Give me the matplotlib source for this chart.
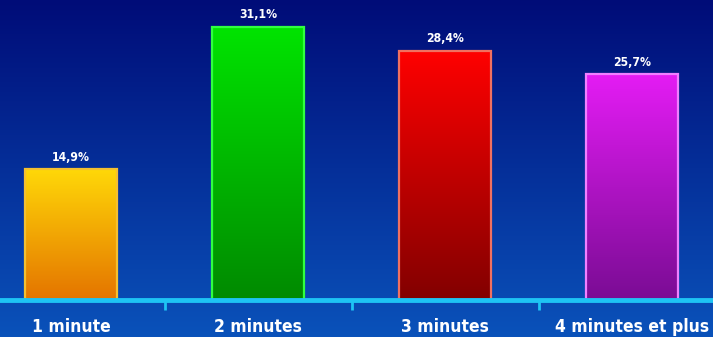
import matplotlib
matplotlib.use('Agg')
import matplotlib.pyplot as plt
import numpy as np
from matplotlib import font_manager
from matplotlib.colors import LinearSegmentedColormap

categories = ['1 minute', '2 minutes', '3 minutes', '4 minutes et plus']
values = [14.9, 31.1, 28.4, 25.7]
value_labels = ['14,9%', '31,1%', '28,4%', '25,7%']
top_colors = ['#ffd808', '#00e400', '#ff0000', '#e41cf4']
bottom_colors = ['#e47400', '#008a00', '#820000', '#7a0c94']
edge_colors = ['#f4c030', '#30ff40', '#f07060', '#f080ff']

names = {f.name for f in font_manager.fontManager.ttflist}
if 'Liberation Sans Narrow' in names:
    family, stretch = 'Liberation Sans Narrow', 'normal'
    lab_size, val_size = 15, 10.5
else:
    family, stretch = 'DejaVu Sans', 'condensed'
    lab_size, val_size = 12.5, 8.7

fig = plt.figure(figsize=(7.13, 3.37), dpi=100)

# background gradient
bg = fig.add_axes([0, 0, 1, 1])
bg.set_axis_off()
bg_cmap = LinearSegmentedColormap.from_list('bg', ['#000c78', '#0a52ba'])
bg.imshow(np.linspace(0, 1, 256).reshape(-1, 1), aspect='auto', cmap=bg_cmap,
          extent=[0, 1, 0, 1], origin='upper')
bg.set_xlim(0, 1); bg.set_ylim(0, 1)

ax = fig.add_axes([0, 37 / 337, 1, 300 / 337])
ax.patch.set_alpha(0)

x = np.arange(len(categories))
bars = ax.bar(x, values, width=0.49, facecolor='none', edgecolor=edge_colors,
              linewidth=1.6, zorder=3)
for b, tc, bc in zip(bars, top_colors, bottom_colors):
    cm = LinearSegmentedColormap.from_list('g', [bc, tc])
    x0, w, h = b.get_x(), b.get_width(), b.get_height()
    im = ax.imshow(np.linspace(0, 1, 256).reshape(-1, 1), aspect='auto', cmap=cm,
                   extent=[x0, x0 + w, 0, h], origin='lower', zorder=2)
    im.set_clip_path(b)

for xi, v, lab in zip(x, values, value_labels):
    ax.annotate(lab, (xi, v), xytext=(0, 4), textcoords='offset points',
                ha='center', va='bottom', color='white', fontsize=val_size,
                fontweight='bold', family=family, fontstretch=stretch)

ax.set_xlim(-0.38, 3.433)
ax.set_ylim(0, 34.17)

for s in ['top', 'left', 'right']:
    ax.spines[s].set_visible(False)
ax.spines['bottom'].set_color('#1ec4f4')
ax.spines['bottom'].set_linewidth(3.5)
ax.spines['bottom'].set_zorder(4)
ax.set_yticks([])
ax.set_xticks([0.5, 1.5, 2.5])
ax.set_xticklabels([])
ax.tick_params(axis='x', which='major', length=7, width=2, color='#1ec4f4', direction='out')
ax.set_xticks(x, minor=True)
ax.set_xticklabels(categories, minor=True)
ax.tick_params(axis='x', which='minor', length=0, pad=13, labelsize=lab_size, labelcolor='white')
for t in ax.get_xticklabels(minor=True):
    t.set_fontweight('bold')
    t.set_family(family)
    t.set_fontstretch(stretch)

fig.savefig('out.png', dpi=100)
